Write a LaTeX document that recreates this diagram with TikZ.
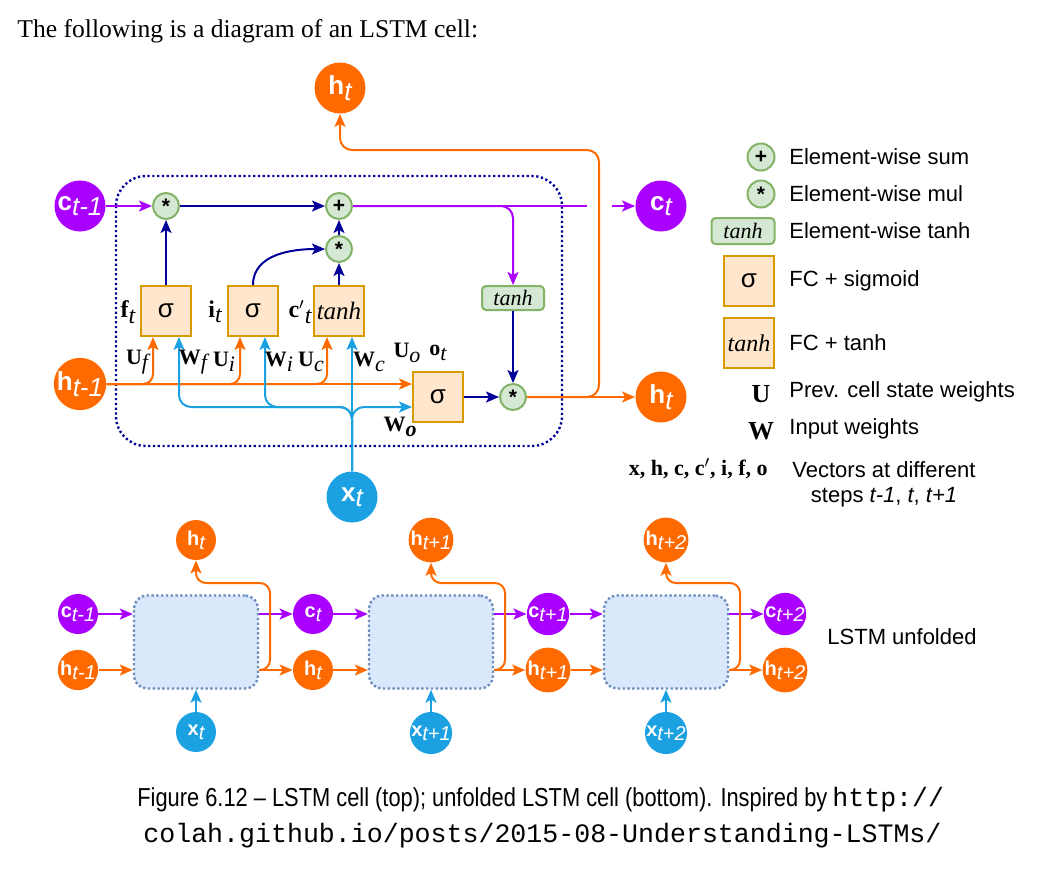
\documentclass[tikz,border=0pt]{standalone}
\usepackage{fontspec}
\setmainfont{Liberation Serif}
\setsansfont{Liberation Sans}
\setmonofont{Liberation Mono}
\usetikzlibrary{arrows.meta}
\definecolor{orng}{RGB}{255,106,0}
\definecolor{purp}{RGB}{170,0,255}
\definecolor{skyb}{RGB}{27,161,226}
\definecolor{dblue}{RGB}{0,0,153}
\definecolor{opfill}{RGB}{213,232,212}
\definecolor{opdraw}{RGB}{130,179,102}
\definecolor{fcfill}{RGB}{255,230,204}
\definecolor{fcdraw}{RGB}{215,155,0}
\definecolor{unfill}{RGB}{218,232,252}
\definecolor{undraw}{RGB}{108,142,191}
\newcommand{\vl}[2]{{\bfseries #1}\raisebox{-0.4ex}{\itshape #2}}
\newcommand{\wl}[2]{{\bfseries #1}\raisebox{-0.5ex}{\itshape #2}}
\newcommand{\tanhtxt}{{\rmfamily\itshape tanh}}
\newcommand{\mulsym}{\raisebox{-0.45ex}{*}}

\begin{document}
\begin{tikzpicture}[x=0.5pt,y=-0.5pt,>={Stealth[length=6.5pt,width=5.5pt,inset=1.5pt]},
vec/.style={circle,minimum size=25.5pt,inner sep=0pt,text=white,font=\sffamily\fontsize{13}{15}\selectfont},
vsm/.style={vec,minimum size=20pt,font=\sffamily\fontsize{10}{12}\selectfont},
op/.style={circle,draw=opdraw,fill=opfill,line width=1pt,minimum size=13pt,inner sep=0pt,font=\sffamily\bfseries\fontsize{10.5}{10}\selectfont},
fc/.style={rectangle,draw=fcdraw,fill=fcfill,line width=1pt,minimum size=25pt,inner sep=0pt,font=\sffamily\fontsize{13}{13}\selectfont},
eltanh/.style={rectangle,rounded corners=2pt,draw=opdraw,fill=opfill,line width=1pt,minimum width=31pt,minimum height=12pt,inner sep=0pt,font=\fontsize{11}{11}\selectfont},
ubox/.style={rectangle,rounded corners=6.5pt,draw=undraw,fill=unfill,line width=1.2pt,dash pattern=on 1.2pt off 1.2pt,minimum width=62pt,minimum height=46.5pt},
wt/.style={inner sep=0pt,font=\fontsize{11}{13}\selectfont},
leg/.style={anchor=west,inner sep=0pt,font=\sffamily\fontsize{11}{13}\selectfont},
oarr/.style={draw=orng,line width=1pt,->},
parr/.style={draw=purp,line width=1pt,->},
barr/.style={draw=skyb,line width=1pt,->},
narr/.style={draw=dblue,line width=1pt,->}]
\begin{scope}
\useasboundingbox (0,0) rectangle (1037,874);
\node (TXT) at (17,31) [anchor=west,inner sep=0pt,font=\fontsize{12.8}{15}\selectfont] {The following is a diagram of an LSTM cell:};
\draw[dblue,line width=1.2pt,dash pattern=on 1.1pt off 1.3pt,rounded corners=15pt] (116,176) rectangle (562,446);
\node (HT) at (340,88) [vec,fill=orng] {\vl{h}{t}};
\node (CP) at (80,206) [vec,fill=purp] {\vl{c}{t-1}};
\node (HP) at (80,384) [vec,fill=orng] {\vl{h}{t-1}};
\node (XT) at (352,497) [vec,fill=skyb] {\vl{x}{t}};
\node (CT) at (661,206) [vec,fill=purp] {\vl{c}{t}};
\node (HO) at (661,397) [vec,fill=orng] {\vl{h}{t}};
\node (M1) at (166,206) [op] {\mulsym};
\node (S1) at (339,206) [op] {+};
\node (M2) at (339,249) [op] {\mulsym};
\node (M3) at (513,397) [op] {\mulsym};
\node (FB) at (166,311) [fc] {σ};
\node (IB) at (253,311) [fc] {σ};
\node (CB) at (339,311) [fc,font=\fontsize{12.5}{12}\selectfont] {\tanhtxt};
\node (OB) at (438,397) [fc] {σ};
\node (TB) at (513,298) [eltanh] {\tanhtxt};
\draw[parr] (CP) -- (M1);
\draw[narr] (M1) -- (S1);
\draw[narr] (FB) -- (M1);
\draw[narr] (IB.north) to[out=90,in=180] (M2);
\draw[narr] (CB) -- (M2);
\draw[narr] (M2) -- (S1);
\coordinate (CE) at (587,206);
\coordinate (CS) at (612,206);
\draw[draw=purp,line width=1pt] (S1) -- (CE);
\draw[parr] (CS) -- (CT);
\draw[parr,rounded corners=6pt] (S1) -| (TB);
\draw[narr] (TB) -- (M3);
\draw[narr] (OB) -- (M3);
\draw[oarr] (M3) -- (HO);
\coordinate (HK) at (599,150);
\draw[oarr,rounded corners=6pt] (M3) -| (HK) -| (HT);
\draw[oarr] (HP) -- (OB.west |- HP);
\draw[oarr,rounded corners=5pt] (HP) -| ([xshift=-6.5pt]FB.south);
\draw[oarr,rounded corners=5pt] (HP) -| ([xshift=-6.5pt]IB.south);
\draw[oarr,rounded corners=5pt] (HP) -| ([xshift=-6pt]CB.south);
\coordinate (WF) at (179,407);
\coordinate (WI) at (265,407);
\draw[barr] (XT) -- ([xshift=6.5pt]CB.south);
\draw[barr,rounded corners=6pt] (XT) |- (WF) -- ([xshift=6.5pt]FB.south);
\draw[barr,rounded corners=6pt] (XT) |- (WI) -- ([xshift=6pt]IB.south);
\draw[barr,rounded corners=6pt] (XT) |- ([yshift=-5pt]OB.west);
\node (LF) at (128,312) [wt,font=\fontsize{12}{14}\selectfont] {\wl{f}{t}};
\node (LI) at (215,312) [wt,font=\fontsize{12}{14}\selectfont] {\wl{i}{t}};
\node (LC) at (300,312) [wt,font=\fontsize{12}{14}\selectfont] {{\bfseries c}$'$\raisebox{-0.5ex}{\itshape t}};
\node (LUF) at (137,362) [wt] {\wl{U}{f}};
\node (LWF) at (193,362) [wt] {\wl{W}{f}};
\node (LUI) at (224,362) [wt] {\wl{U}{i}};
\node (LWI) at (279,362) [wt] {\wl{W}{i}};
\node (LUC) at (311,362) [wt] {\wl{U}{c}};
\node (LWC) at (369,362) [wt] {\wl{W}{c}};
\node (LUO) at (407,353) [wt] {\wl{U}{o}};
\node (LOT) at (438,353) [wt] {\wl{o}{t}};
\node (LWO) at (400,427) [wt] {{\bfseries W}\raisebox{-0.5ex}{\bfseries\itshape o}};
\node (GS) at (761,157) [op,minimum size=13.5pt] {+};
\node (GM) at (761,194) [op,minimum size=13.5pt] {\mulsym};
\node (GT) at (743,231) [eltanh,minimum width=31.5pt,minimum height=13pt] {\tanhtxt};
\node (GF) at (749,281) [fc] {σ};
\node (GC) at (749,343) [fc,font=\fontsize{12}{12}\selectfont] {\tanhtxt};
\node (GU) at (761,394) [inner sep=0pt,font=\bfseries\fontsize{13}{13}\selectfont] {U};
\node (GW) at (761,431) [inner sep=0pt,font=\bfseries\fontsize{13}{13}\selectfont] {W};
\node (GV) at (768,469) [anchor=east,inner sep=0pt,font=\bfseries\fontsize{11}{13}\selectfont] {x, h, c, c$'$, i, f, o};
\node (TS) at (789,157) [leg] {Element-wise sum};
\node (TM) at (789,194) [leg] {Element-wise mul};
\node (TT) at (789,231) [leg] {Element-wise tanh};
\node (TF) at (789,281) [leg] {FC + sigmoid};
\node (TC) at (789,343) [leg] {FC + tanh};
\node (TU) at (789,392) [leg] {Prev. cell state weights};
\node (TW) at (789,429) [leg] {Input weights};
\node (TV) at (792,470) [leg] {Vectors at different};
\node (TV2) at (884,497) [inner sep=0pt,font=\sffamily\fontsize{11}{13}\selectfont] {steps \textit{t-1}, \textit{t}, \textit{t+1}};
\node (B1) at (196,642) [ubox] {};
\node (B2) at (431,642) [ubox] {};
\node (B3) at (666,642) [ubox] {};
\node (C0) at (78,614) [vsm,fill=purp] {\vl{c}{t-1}};
\node (H0) at (78,670) [vsm,fill=orng] {\vl{h}{t-1}};
\node (C1) at (313,614) [vsm,fill=purp] {\vl{c}{t}};
\node (H1) at (313,670) [vsm,fill=orng] {\vl{h}{t}};
\node (C2) at (548,614) [vsm,fill=purp] {\vl{c}{t+1}};
\node (H2) at (548,670) [vsm,fill=orng] {\vl{h}{t+1}};
\node (C3) at (785,614) [vsm,fill=purp] {\vl{c}{t+2}};
\node (H3) at (785,670) [vsm,fill=orng] {\vl{h}{t+2}};
\node (Y1) at (196,540) [vsm,fill=orng] {\vl{h}{t}};
\node (Y2) at (431,540) [vsm,fill=orng] {\vl{h}{t+1}};
\node (Y3) at (666,540) [vsm,fill=orng] {\vl{h}{t+2}};
\node (X1) at (196,732) [vsm,fill=skyb] {\vl{x}{t}};
\node (X2) at (431,733) [vsm,fill=skyb] {\vl{x}{t+1}};
\node (X3) at (666,733) [vsm,fill=skyb] {\vl{x}{t+2}};
\coordinate (K1) at (270,583);
\coordinate (K2) at (505,583);
\coordinate (K3) at (740,583);
\draw[parr] (C0) -- (B1.west |- C0);
\draw[oarr] (H0) -- (B1.west |- H0);
\draw[parr] (B1.east |- C1) -- (C1);
\draw[oarr] (B1.east |- H1) -- (H1);
\draw[oarr,rounded corners=5pt] (B1.east |- H1) -| (K1) -| (Y1);
\draw[barr] (X1) -- (B1);
\draw[parr] (C1) -- (B2.west |- C1);
\draw[oarr] (H1) -- (B2.west |- H1);
\draw[parr] (B2.east |- C2) -- (C2);
\draw[oarr] (B2.east |- H2) -- (H2);
\draw[oarr,rounded corners=5pt] (B2.east |- H2) -| (K2) -| (Y2);
\draw[barr] (X2) -- (B2);
\draw[parr] (C2) -- (B3.west |- C2);
\draw[oarr] (H2) -- (B3.west |- H2);
\draw[parr] (B3.east |- C3) -- (C3);
\draw[oarr] (B3.east |- H3) -- (H3);
\draw[oarr,rounded corners=5pt] (B3.east |- H3) -| (K3) -| (Y3);
\draw[barr] (X3) -- (B3);
\node (LU) at (902,637) [inner sep=0pt,font=\sffamily\fontsize{11}{13}\selectfont] {LSTM unfolded};
\node (CAP1) at (137,800) [anchor=west,inner sep=0pt] {\resizebox{345pt}{\height}{\sffamily\fontsize{13}{15}\selectfont Figure 6.12 – LSTM cell (top); unfolded LSTM cell (bottom). Inspired by}\ \texttt{\fontsize{13.3}{15}\selectfont http://}};
\node (CAP2) at (143,836) [anchor=west,inner sep=0pt,font=\ttfamily\fontsize{13.3}{15}\selectfont] {colah.github.io/posts/2015-08-Understanding-LSTMs/};
\end{scope}
\end{tikzpicture}
\end{document}
